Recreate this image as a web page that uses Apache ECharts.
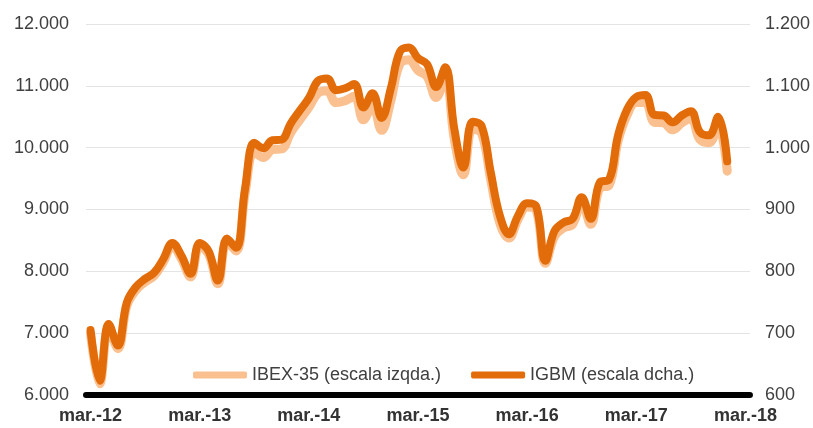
<!DOCTYPE html>
<html>
<head>
<meta charset="utf-8">
<script src="https://cdn.jsdelivr.net/npm/echarts@6/dist/echarts.min.js"></script>
<style>
  html, body { margin: 0; padding: 0; background: #fff; }
  #chart { width: 813px; height: 428px; }
</style>
</head>
<body>
<div id="chart"></div>
<script type="text/javascript">
	// meses: mar.-12 ... mar.-18
	var meses = ['mar.-12','abr.-12','may.-12','jun.-12','jul.-12','ago.-12','sep.-12','oct.-12','nov.-12','dic.-12','ene.-13','feb.-13',
		'mar.-13','abr.-13','may.-13','jun.-13','jul.-13','ago.-13','sep.-13','oct.-13','nov.-13','dic.-13','ene.-14','feb.-14',
		'mar.-14','abr.-14','may.-14','jun.-14','jul.-14','ago.-14','sep.-14','oct.-14','nov.-14','dic.-14','ene.-15','feb.-15',
		'mar.-15','abr.-15','may.-15','jun.-15','jul.-15','ago.-15','sep.-15','oct.-15','nov.-15','dic.-15','ene.-16','feb.-16',
		'mar.-16','abr.-16','may.-16','jun.-16','jul.-16','ago.-16','sep.-16','oct.-16','nov.-16','dic.-16','ene.-17','feb.-17',
		'mar.-17','abr.-17','may.-17','jun.-17','jul.-17','ago.-17','sep.-17','oct.-17','nov.-17','dic.-17','ene.-18','feb.-18',
		'mar.-18'];

	// IBEX-35 (escala izquierda)
	var ibex = [7000,6180,7100,6750,7450,7700,7830,7930,8150,8410,8200,7910,
		8410,8270,7800,8480,8330,9270,9930,9840,9970,9980,10240,10450,
		10650,10880,10920,10730,10760,10830,10450,10680,10280,10750,11350,11420,
		11250,11150,10810,11130,10130,9560,10300,10230,9480,8780,8540,8840,
		9040,8990,8130,8560,8700,8760,9110,8760,9350,9390,10110,10530,
		10730,10730,10410,10400,10290,10400,10470,10130,10080,10340,9620,null,
		null];

	// IGBM (escala derecha)
	var igbm = [705,623,715,680,750,775,788,798,820,846,825,796,
		846,832,785,853,838,935,1008,999,1012,1013,1039,1060,
		1080,1108,1112,1093,1096,1103,1065,1088,1048,1095,1155,1162,
		1145,1135,1098,1130,1030,968,1042,1035,960,890,860,890,
		910,905,817,865,879,885,920,885,944,948,1020,1062,
		1082,1085,1053,1052,1041,1052,1059,1025,1020,1050,978,null,
		null];

	var nombres = ['IBEX-35 (escala izqda.)', 'IGBM (escala dcha.)'];

	function miles(v) {
		return String(v).replace(/\B(?=(\d{3})+(?!\d))/g, '.');
	}

	var myChart = echarts.init(document.getElementById('chart'), null, {renderer: 'canvas'});
	var option = {
		animation: false,
		textStyle: { fontFamily: 'Liberation Sans, Arial, sans-serif' },
		grid: { left: 86, right: 62, top: 24, bottom: 33 },
		legend: {
			data: nombres,
			left: 188,
			top: 361,
			icon: 'roundRect',
			itemWidth: 54,
			itemHeight: 7,
			itemGap: 30,
			textStyle: { fontSize: 18, color: '#404040', fontFamily: 'Liberation Sans, Arial, sans-serif' }
		},
		xAxis: {
			type: 'category',
			data: meses,
			boundaryGap: true,
			axisLine: { show: true, lineStyle: { color: '#000', width: 6 } },
			axisTick: { show: false },
			axisLabel: {
				interval: 11,
				margin: 12,
				fontSize: 18,
				fontWeight: 'bold',
				color: '#333'
			},
			splitLine: { show: false }
		},
		yAxis: [
			{
				type: 'value',
				min: 6000,
				max: 12000,
				interval: 1000,
				position: 'left',
				axisLine: { show: false },
				axisTick: { show: false },
				axisLabel: { fontSize: 18, color: '#404040', margin: 17, formatter: miles },
				splitLine: { lineStyle: { color: '#e4e4e4', width: 1 } }
			},
			{
				type: 'value',
				min: 600,
				max: 1200,
				interval: 100,
				position: 'right',
				axisLine: { show: false },
				axisTick: { show: false },
				axisLabel: { fontSize: 18, color: '#404040', margin: 15, formatter: miles },
				splitLine: { show: false }
			}
		],
		series: [
			{
				name: nombres[0],
				type: 'line',
				yAxisIndex: 0,
				data: ibex,
				smooth: 0.4,
				symbol: 'none',
				lineStyle: { color: '#FAC090', width: 9, cap: 'round', join: 'round' },
				itemStyle: { color: '#FAC090' },
				z: 2
			},
			{
				name: nombres[1],
				type: 'line',
				yAxisIndex: 1,
				data: igbm,
				smooth: 0.4,
				symbol: 'none',
				lineStyle: { color: '#E36C0A', width: 8, cap: 'round', join: 'round' },
				itemStyle: { color: '#E36C0A' },
				z: 3
			}
		]
	};
	myChart.setOption(option);
</script>
</body>
</html>
